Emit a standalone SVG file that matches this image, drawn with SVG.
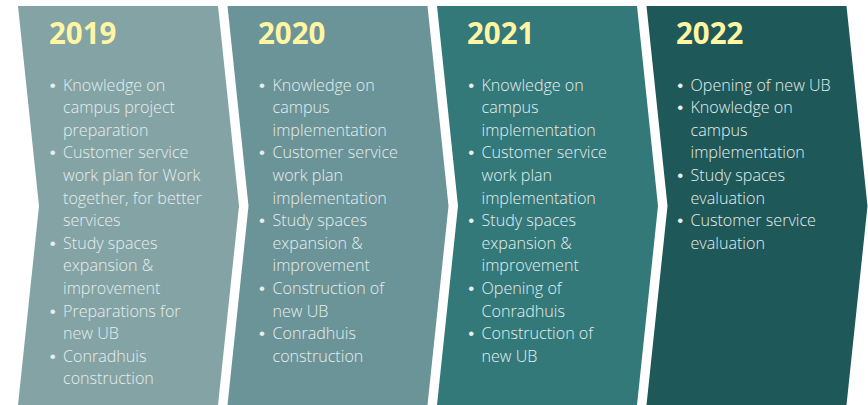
<svg xmlns="http://www.w3.org/2000/svg" width="868" height="405" viewBox="0 0 868 405">
<style>
.yr{font-family:"Open Sans","Liberation Sans",sans-serif;font-weight:700;font-size:29.5px;fill:#FFF5A3}
.tx{font-family:"Open Sans","Liberation Sans",sans-serif;font-weight:300;font-size:16.1px;fill:#E6EEEE}
.bu{font-family:"Liberation Sans",sans-serif;font-size:17px;fill:#E6EEEE;text-anchor:middle}
</style>
<defs>
<polygon id="chev" points="0,6 200,6 221,206 200,405 0,405 21,206"/>
</defs>
<rect width="868" height="405" fill="#FFFFFF"/>
<g id="y2019">
<use href="#chev" x="18" fill="#84A3A5"/>
<text class="yr" x="49" y="44">2019</text>
<g class="bu">
<text x="52.7" y="90.5">•</text><text x="52.7" y="158.3">•</text><text x="52.7" y="248.7">•</text><text x="52.7" y="316.5">•</text><text x="52.7" y="361.7">•</text>
</g>
<text class="tx">
<tspan x="63" y="90.5">Knowledge on</tspan>
<tspan x="63" y="113.1">campus project</tspan>
<tspan x="63" y="135.7">preparation</tspan>
<tspan x="63" y="158.3">Customer service</tspan>
<tspan x="63" y="180.9">work plan for Work</tspan>
<tspan x="63" y="203.5">together, for better</tspan>
<tspan x="63" y="226.1">services</tspan>
<tspan x="63" y="248.7">Study spaces</tspan>
<tspan x="63" y="271.3">expansion &amp;</tspan>
<tspan x="63" y="293.9">improvement</tspan>
<tspan x="63" y="316.5">Preparations for</tspan>
<tspan x="63" y="339.1">new UB</tspan>
<tspan x="63" y="361.7">Conradhuis</tspan>
<tspan x="63" y="384.3">construction</tspan>
</text>
</g>
<g id="y2020">
<use href="#chev" x="227.5" fill="#6B9498"/>
<text class="yr" x="258" y="44">2020</text>
<g class="bu">
<text x="262" y="90.5">•</text><text x="262" y="158.3">•</text><text x="262" y="226.1">•</text><text x="262" y="293.9">•</text><text x="262" y="339.1">•</text>
</g>
<text class="tx">
<tspan x="272.5" y="90.5">Knowledge on</tspan>
<tspan x="272.5" y="113.1">campus</tspan>
<tspan x="272.5" y="135.7">implementation</tspan>
<tspan x="272.5" y="158.3">Customer service</tspan>
<tspan x="272.5" y="180.9">work plan</tspan>
<tspan x="272.5" y="203.5">implementation</tspan>
<tspan x="272.5" y="226.1">Study spaces</tspan>
<tspan x="272.5" y="248.7">expansion &amp;</tspan>
<tspan x="272.5" y="271.3">improvement</tspan>
<tspan x="272.5" y="293.9">Construction of</tspan>
<tspan x="272.5" y="316.5">new UB</tspan>
<tspan x="272.5" y="339.1">Conradhuis</tspan>
<tspan x="272.5" y="361.7">construction</tspan>
</text>
</g>
<g id="y2021">
<use href="#chev" x="437" fill="#33797A"/>
<text class="yr" x="467" y="44">2021</text>
<g class="bu">
<text x="471.2" y="90.5">•</text><text x="471.2" y="158.3">•</text><text x="471.2" y="226.1">•</text><text x="471.2" y="293.9">•</text><text x="471.2" y="339.1">•</text>
</g>
<text class="tx">
<tspan x="481.5" y="90.5">Knowledge on</tspan>
<tspan x="481.5" y="113.1">campus</tspan>
<tspan x="481.5" y="135.7">implementation</tspan>
<tspan x="481.5" y="158.3">Customer service</tspan>
<tspan x="481.5" y="180.9">work plan</tspan>
<tspan x="481.5" y="203.5">implementation</tspan>
<tspan x="481.5" y="226.1">Study spaces</tspan>
<tspan x="481.5" y="248.7">expansion &amp;</tspan>
<tspan x="481.5" y="271.3">improvement</tspan>
<tspan x="481.5" y="293.9">Opening of</tspan>
<tspan x="481.5" y="316.5">Conradhuis</tspan>
<tspan x="481.5" y="339.1">Construction of</tspan>
<tspan x="481.5" y="361.7">new UB</tspan>
</text>
</g>
<g id="y2022">
<use href="#chev" x="646.5" fill="#1F5858"/>
<text class="yr" x="676" y="44">2022</text>
<g class="bu">
<text x="680.3" y="90.5">•</text><text x="680.3" y="113.1">•</text><text x="680.3" y="180.9">•</text><text x="680.3" y="226.1">•</text>
</g>
<text class="tx">
<tspan x="690.5" y="90.5">Opening of new UB</tspan>
<tspan x="690.5" y="113.1">Knowledge on</tspan>
<tspan x="690.5" y="135.7">campus</tspan>
<tspan x="690.5" y="158.3">implementation</tspan>
<tspan x="690.5" y="180.9">Study spaces</tspan>
<tspan x="690.5" y="203.5">evaluation</tspan>
<tspan x="690.5" y="226.1">Customer service</tspan>
<tspan x="690.5" y="248.7">evaluation</tspan>
</text>
</g>
</svg>
